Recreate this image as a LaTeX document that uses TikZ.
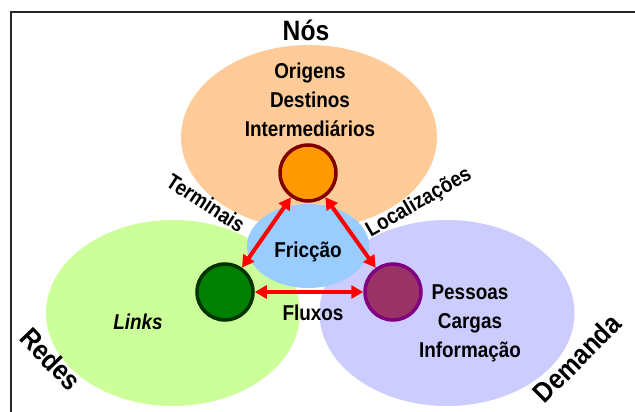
\documentclass[tikz,border=0pt]{standalone}
\usepackage{fontspec}
\setmainfont{Liberation Sans}[FakeStretch=0.88]
\usetikzlibrary{shapes.geometric, arrows.meta}

\definecolor{peach}{HTML}{FFCC99}
\definecolor{lime}{HTML}{CCFF99}
\definecolor{lilac}{HTML}{CCCCFF}
\definecolor{sky}{HTML}{99CCFF}
\definecolor{amber}{HTML}{FF9900}
\definecolor{maroon}{HTML}{800000}
\definecolor{leaf}{HTML}{008000}
\definecolor{pine}{HTML}{003300}
\definecolor{plum}{HTML}{993366}
\definecolor{violet}{HTML}{800080}

\begin{document}
\begin{tikzpicture}[x=1pt, y=-1pt,
    blob/.style={ellipse, inner sep=0pt},
    dot/.style={circle, minimum size=56pt, inner sep=0pt, line width=3.5pt},
    lbl/.style={font=\bfseries\fontsize{21.5}{29}\selectfont, align=center, inner sep=1pt},
    big/.style={font=\bfseries\fontsize{28}{30}\selectfont, inner sep=1pt},
    link/.style={{Triangle[length=12pt,width=13pt]}-{Triangle[length=12pt,width=13pt]}, red, line width=4pt}]

                    \useasboundingbox (0,0) rectangle (635,412);
                    \draw [line width=1.5pt, black!85] (11,412) -- (11,12) -- (635,12);

                    % the three big sets and the friction zone
                    \node (nos) [blob, fill=peach, minimum width=256pt, minimum height=184pt] at (309,137) {};
                    \node (redes) [blob, fill=lime, minimum width=254pt, minimum height=186pt] at (173,313) {};
                    \node (demanda) [blob, fill=lilac, minimum width=255pt, minimum height=186pt] at (447,313) {};
                    \node (friccao) [blob, fill=sky, minimum width=122pt, minimum height=84pt] at (308,246) {};

                    \node (tnos) [big] at (306,30) {Nós};
                    \node (tredes) [big, rotate=-46] at (51,359) {Redes};
                    \node (tdemanda) [big, rotate=45] at (577,358) {Demanda};

                    \node (tlista1) [lbl] at (310,100) {Origens\\Destinos\\Intermediários};
                    \node (tlista2) [lbl] at (470,323) {Pessoas\\Cargas\\Informação};
                    \node (tlinks) [lbl, font=\bfseries\itshape\fontsize{21.5}{29}\selectfont] at (138,322) {Links};
                    \node (tfric) [lbl] at (308,252) {Fricção};
                    \node (tfluxos) [lbl] at (313,313) {Fluxos};
                    \node (tterm) [lbl, rotate=-33] at (206,203) {Terminais};
                    \node (tloc) [lbl, rotate=30] at (419,203) {Localizações};

                    \node (oc) [dot, fill=amber, draw=maroon] at (308,173) {};
                    \node (gc) [dot, fill=leaf, draw=pine] at (225,292) {};
                    \node (pc) [dot, fill=plum, draw=violet] at (393,292) {};

                    \path [link]
                        (oc) edge (gc)
                        (oc) edge (pc)
                        (gc) edge (pc);
                \end{tikzpicture}
\end{document}
